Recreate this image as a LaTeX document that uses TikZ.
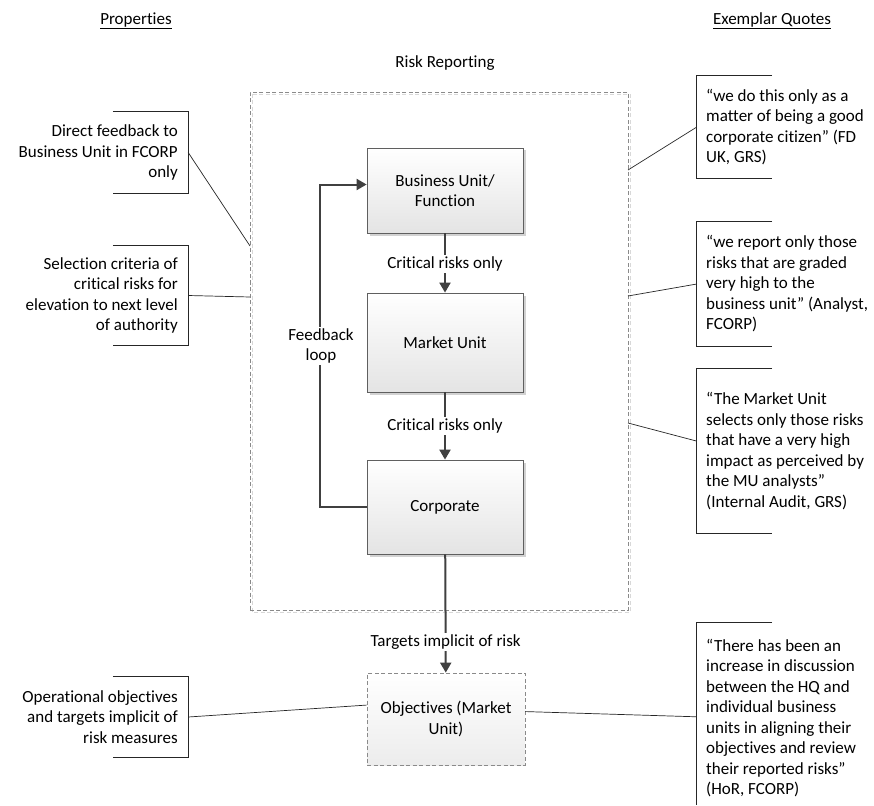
\documentclass[tikz,border=0pt]{standalone}
\usepackage{fontspec}
\setmainfont{Carlito}[Ligatures={NoCommon}]
\usetikzlibrary{arrows.meta,calc,shadows}
\definecolor{edge}{HTML}{5F5F5F}
\definecolor{flowcol}{HTML}{404040}
\definecolor{boxbot}{HTML}{E4E4E4}
\definecolor{shadowgray}{HTML}{D2D2D2}
\definecolor{dashcol}{HTML}{8A8A8A}
\definecolor{dashlight}{HTML}{D8D8D8}
\begin{document}
\begin{tikzpicture}[x=1pt,y=-1pt,
  every node/.style={font=\fontsize{17}{20.5}\selectfont, inner sep=0pt},
  unitbox/.style={draw=edge, line width=0.8pt, top color=white, bottom color=boxbot,
    minimum width=156pt, align=center,
    drop shadow={shadow xshift=2.5pt, shadow yshift=-2.5pt, fill=shadowgray, opacity=1}},
  goalbox/.style={draw=dashcol, dashed, dash pattern=on 4pt off 2.5pt, line width=0.8pt,
    top color=white, bottom color=boxbot!70, minimum width=158pt, minimum height=92pt, align=center},
  flow/.style={draw=flowcol, line width=2pt, -{Triangle[length=10pt,width=11pt]}},
  lbl/.style={fill=white, inner sep=2pt},
  link/.style={draw=black!85, line width=0.7pt},
  bracket/.style={draw=black!85, line width=0.7pt},
  slot/.style={minimum width=75pt},
  lefttext/.style={align=right, anchor=east},
  righttext/.style={align=left, anchor=west},
]
% canvas
\useasboundingbox (0,0) rectangle (874,805);
\fill[white] (0,0) rectangle (874,805);

% column headings and title
\node (hprop) at (136,21) {\underline{Properties}};
\node (hquote) at (772,21) {\underline{Exemplar Quotes}};
\node (title) at (445,63) {Risk Reporting};

% dashed frame round the reporting chain, with its faint offset copy
\draw[draw=dashlight, dashed, dash pattern=on 4pt off 2.5pt, line width=0.8pt] (252,94) rectangle (630,612);
\node[draw=dashcol, dashed, dash pattern=on 4pt off 2.5pt, line width=0.8pt,
      minimum width=378pt, minimum height=518pt] (frame) at (439,351) {};

% reporting chain
\node[unitbox, minimum height=85pt] (bu) at (445,190.5) {Business Unit/\\Function};
\node[unitbox, minimum height=99pt] (mu) at (445,342.5) {Market Unit};
\node[unitbox, minimum height=94pt] (corp) at (445,507) {Corporate};
\node[goalbox] (obj) at (446,719) {Objectives (Market\\Unit)};

\draw[flow] (bu) -- node[lbl, pos=0.52] {Critical risks only} (mu);
\draw[flow] (mu) -- node[lbl, pos=0.5] {Critical risks only} (corp);
\draw[flow] (corp) -- node[lbl, pos=0.74] {Targets implicit of risk} (obj);

% feedback loop
\coordinate (buin) at ($(bu.west)+(0,-6)$);
\coordinate (fbturn) at (320,507);
\draw[flow] (corp.west) -- (fbturn) |- (buin);
\node[lbl, align=center, inner sep=1pt] (fblabel) at (321,346) {Feedback\\loop};

% property brackets (left)
\node[slot, minimum height=81pt] (L1) at (150.5,152.5) {};
\node[slot, minimum height=99pt] (L2) at (150.5,295.5) {};
\node[slot, minimum height=80pt] (L3) at (150.5,717) {};
\foreach \b in {L1,L2,L3}
  \draw[bracket] (\b.north west) -- (\b.north east) -- (\b.south east) -- (\b.south west);
\node[lefttext] (tL1) at (178,152.5) {Direct feedback to\\Business Unit in FCORP\\only};
\node[lefttext] (tL2) at (178,295.5) {Selection criteria of\\critical risks for\\elevation to next level\\of authority};
\node[lefttext] (tL3) at (178,717) {Operational objectives\\and targets implicit of\\risk measures};

% quote brackets (right)
\node[slot, minimum height=102pt] (R1) at (734.5,127) {};
\node[slot, minimum height=124pt] (R2) at (734.5,284) {};
\node[slot, minimum height=164pt] (R3) at (734.5,451) {};
\node[slot, minimum height=182pt] (R4) at (734.5,714) {};
\foreach \b in {R1,R2,R3}
  \draw[bracket] (\b.north east) -- (\b.north west) -- (\b.south west) -- (\b.south east);
\draw[bracket] (R4.north east) -- (R4.north west) -- (R4.south west);
\node[righttext] (tR1) at (706,127) {“we do this only as a\\matter of being a good\\corporate citizen” (FD\\UK, GRS)};
\node[righttext] (tR2) at (706,284) {“we report only those\\risks that are graded\\very high to the\\business unit” (Analyst,\\FCORP)};
\node[righttext] (tR3) at (706,451) {“The Market Unit\\selects only those risks\\that have a very high\\impact as perceived by\\the MU analysts”\\(Internal Audit, GRS)};
\node[righttext] (tR4) at (706,718) {“There has been an\\increase in discussion\\between the HQ and\\individual business\\units in aligning their\\objectives and review\\their reported risks”\\(HoR, FCORP)};

% ends of the callout lines on the frame
\coordinate (fL1) at (250,246);
\coordinate (fL2) at (250,297);
\coordinate (fR1) at (628,170);
\coordinate (fR2) at (628,296);
\coordinate (fR3) at (628,423);
\coordinate (objin) at ($(obj.north west)!0.35!(obj.south west)$);
\coordinate (objout) at ($(obj.north east)!0.42!(obj.south east)$);
\coordinate (r3in) at ($(R3.north west)!0.44!(R3.south west)$);

\draw[link] (L1.east) -- (fL1);
\draw[link] (L2.east) -- (fL2);
\draw[link] (L3.east) -- (objin);
\draw[link] (fR1) -- (R1.west);
\draw[link] (fR2) -- (R2.west);
\draw[link] (fR3) -- (r3in);
\draw[link] (objout) -- ($(R4.north west)+(0,94)$);
\end{tikzpicture}
\end{document}
